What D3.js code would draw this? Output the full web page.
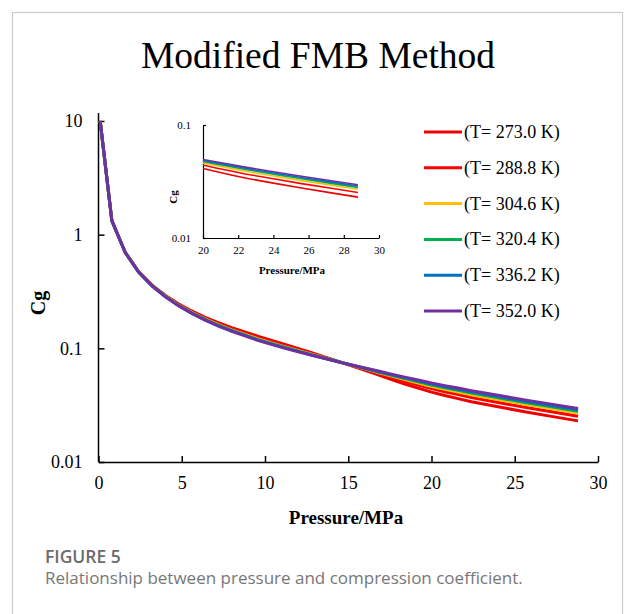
<!DOCTYPE html>
<html>
<head>
<meta charset="utf-8">
<script src="https://cdn.jsdelivr.net/npm/d3@7"></script>
<style>
body { margin: 0; background: #fff; }
</style>
</head>
<body>
<div id="dataviz"></div>
<script>
// Données (pression en MPa, Cg)
var pressure = [0.1, 0.8, 1.6, 2.4, 3.2, 4.0, 4.8, 5.6, 6.4, 7.2, 8.0, 9.6, 11.2, 12.8, 14.4, 15.2, 16.0, 16.8, 17.6, 18.4, 19.2, 20.0, 20.8, 21.6, 22.4, 24.0, 25.6, 27.2, 28.8];
var cg273 = [10, 1.33, 0.70, 0.475, 0.362, 0.2936, 0.2465, 0.2132, 0.1876, 0.1680, 0.1523, 0.1275, 0.108, 0.0914, 0.0768, 0.0703, 0.0641, 0.0584, 0.0531, 0.0486, 0.0447, 0.0412, 0.0385, 0.0361, 0.0339, 0.0306, 0.0277, 0.0252, 0.0230];
var cg288 = [10, 1.33, 0.70, 0.473, 0.360, 0.2905, 0.2431, 0.2095, 0.1838, 0.1641, 0.1482, 0.1237, 0.1051, 0.0898, 0.0765, 0.0707, 0.0652, 0.0601, 0.0554, 0.0512, 0.0476, 0.0442, 0.0415, 0.0392, 0.0369, 0.0334, 0.0303, 0.0277, 0.0253];
var cg304 = [10, 1.33, 0.70, 0.472, 0.358, 0.2884, 0.2407, 0.2070, 0.1812, 0.1613, 0.1454, 0.1211, 0.1031, 0.0887, 0.0763, 0.0710, 0.0660, 0.0613, 0.0569, 0.0530, 0.0495, 0.0462, 0.0436, 0.0413, 0.0390, 0.0354, 0.0322, 0.0295, 0.0270];
var cg320 = [10, 1.33, 0.70, 0.471, 0.357, 0.2870, 0.2392, 0.2054, 0.1795, 0.1596, 0.1436, 0.1194, 0.1019, 0.0880, 0.0762, 0.0712, 0.0664, 0.0620, 0.0579, 0.0541, 0.0508, 0.0475, 0.0450, 0.0427, 0.0404, 0.0367, 0.0334, 0.0306, 0.0280];
var cg336 = [10, 1.33, 0.70, 0.470, 0.356, 0.2860, 0.2381, 0.2042, 0.1782, 0.1583, 0.1423, 0.1182, 0.1009, 0.0875, 0.0761, 0.0713, 0.0668, 0.0626, 0.0586, 0.0550, 0.0517, 0.0485, 0.0460, 0.0437, 0.0414, 0.0376, 0.0343, 0.0314, 0.0288];
var cg352 = [10, 1.33, 0.70, 0.470, 0.355, 0.2850, 0.2370, 0.2030, 0.1770, 0.1570, 0.1410, 0.1170, 0.1000, 0.0870, 0.0760, 0.0714, 0.0671, 0.0631, 0.0593, 0.0558, 0.0526, 0.0495, 0.0470, 0.0447, 0.0424, 0.0386, 0.0352, 0.0323, 0.0296];

var labels = ["(T= 273.0 K)", "(T= 288.8 K)", "(T= 304.6 K)", "(T= 320.4 K)", "(T= 336.2 K)", "(T= 352.0 K)"];
var colors = ["#ee0000", "#ff0000", "#ffc000", "#00b050", "#0070c0", "#7030a0"];

var xTicks = [0, 5, 10, 15, 20, 25, 30];
var yTicks = [0.01, 0.1, 1, 10];
var insetXTicks = [20, 22, 24, 26, 28, 30];
var insetYTicks = [0.01, 0.1];

var series = [cg273, cg288, cg304, cg320, cg336, cg352];

var width = 625
var height = 614
var serif = "'Liberation Serif', 'Times New Roman', serif"

var svg = d3.select("#dataviz").append("svg")
	.attr("width", width)
	.attr("height", height)
	.style("display", "block");

// cadre gris de la figure
svg.append("rect")
	.attr("x", 12.5)
	.attr("y", 12.5)
	.attr("width", 610)
	.attr("height", 640)
	.attr("fill", "none")
	.attr("stroke", "#cccccc")
	.attr("stroke-width", 1.2);

// titre
svg.append("text")
	.text("Modified FMB Method")
	.attr("x", 318)
	.attr("y", 68)
	.attr("text-anchor", "middle")
	.attr("font-family", serif)
	.attr("font-size", "37.5px")
	.attr("fill", "black");

// échelles du graphique principal
var x = d3.scaleLinear().domain([0, 30]).range([98.5, 598]);
var y = d3.scaleLog().domain([0.01, 10]).range([462, 121]);

var gx = svg.append("g")
	.attr("transform", "translate(0,462)")
	.call(d3.axisBottom(x).tickValues(xTicks).tickSizeInner(-6).tickSizeOuter(0).tickPadding(14));

var gy = svg.append("g")
	.attr("transform", "translate(98.5,0)")
	.call(d3.axisLeft(y).tickValues(yTicks).tickFormat(d => d).tickSizeInner(-6).tickSizeOuter(0).tickPadding(16));
gy.select(".domain").remove();
gy.append("line")
	.attr("x1", 0).attr("x2", 0)
	.attr("y1", 113).attr("y2", 462)
	.attr("stroke", "black");

[gx, gy].forEach(function (g) {
	g.selectAll("path, line").attr("stroke", "black").attr("stroke-width", 1.5);
	g.selectAll("text")
		.attr("font-family", serif)
		.attr("font-size", "18px")
		.attr("fill", "black");
});

// titres des axes
svg.append("text")
	.text("Pressure/MPa")
	.attr("x", 346)
	.attr("y", 524)
	.attr("text-anchor", "middle")
	.attr("font-family", serif)
	.attr("font-weight", "bold")
	.attr("font-size", "19px");

svg.append("text")
	.text("Cg")
	.attr("transform", "translate(45,303)rotate(-90)")
	.attr("text-anchor", "middle")
	.attr("font-family", serif)
	.attr("font-weight", "bold")
	.attr("font-size", "20px");

// courbes
var line = d3.line()
	.x((d, i) => x(pressure[i]))
	.y(d => y(d));

svg.append("g")
	.selectAll("path")
	.data(series)
	.enter()
	.append("path")
	.attr("d", line)
	.attr("fill", "none")
	.attr("stroke", (d, i) => colors[i])
	.attr("stroke-width", 3)
	.attr("stroke-linejoin", "round");

// légende
var legend = svg.append("g")
	.selectAll("g")
	.data(labels)
	.enter()
	.append("g")
	.attr("transform", (d, i) => "translate(0," + (132 + i * 35.8) + ")");

legend.append("line")
	.attr("x1", 424)
	.attr("x2", 462)
	.attr("stroke", (d, i) => colors[i])
	.attr("stroke-width", 3);

legend.append("text")
	.text(d => d)
	.attr("x", 464)
	.attr("y", 6)
	.attr("font-family", serif)
	.attr("font-size", "18px")
	.attr("fill", "black");

// encart (zoom 20-30 MPa)
var xi = d3.scaleLinear().domain([20, 30]).range([203, 379]);
var yi = d3.scaleLog().domain([0.01, 0.1]).range([238, 125]);

var gxi = svg.append("g")
	.attr("transform", "translate(0,238)")
	.call(d3.axisBottom(xi).tickValues(insetXTicks).tickSizeInner(-3).tickSizeOuter(0).tickPadding(8));

var gyi = svg.append("g")
	.attr("transform", "translate(203,0)")
	.call(d3.axisLeft(yi).tickValues(insetYTicks).tickFormat(d => d).tickSizeInner(-3).tickSizeOuter(0).tickPadding(12));

[gxi, gyi].forEach(function (g) {
	g.selectAll("path, line").attr("stroke", "black").attr("stroke-width", 1.2);
	g.selectAll("text")
		.attr("font-family", serif)
		.attr("font-size", "11px")
		.attr("fill", "black");
});

svg.append("text")
	.text("Pressure/MPa")
	.attr("x", 292)
	.attr("y", 274)
	.attr("text-anchor", "middle")
	.attr("font-family", serif)
	.attr("font-weight", "bold")
	.attr("font-size", "11px");

svg.append("text")
	.text("Cg")
	.attr("transform", "translate(177,197)rotate(-90)")
	.attr("text-anchor", "middle")
	.attr("font-family", serif)
	.attr("font-weight", "bold")
	.attr("font-size", "11px");

var lineInset = d3.line()
	.defined((d, i) => pressure[i] >= 20)
	.x((d, i) => xi(pressure[i]))
	.y(d => yi(d));

svg.append("g")
	.selectAll("path")
	.data(series)
	.enter()
	.append("path")
	.attr("d", lineInset)
	.attr("fill", "none")
	.attr("stroke", (d, i) => colors[i])
	.attr("stroke-width", 1.6);

// légende de la figure
svg.append("text")
	.text("FIGURE 5")
	.attr("x", 45)
	.attr("y", 563)
	.attr("font-family", "'Open Sans', sans-serif")
	.attr("font-weight", "600")
	.attr("font-size", "17.5px")
	.attr("fill", "#6b6b6b");

svg.append("text")
	.text("Relationship between pressure and compression coefficient.")
	.attr("x", 45)
	.attr("y", 584)
	.attr("font-family", "'Open Sans', sans-serif")
	.attr("font-size", "17px")
	.attr("fill", "#777777");
</script>
</body>
</html>
